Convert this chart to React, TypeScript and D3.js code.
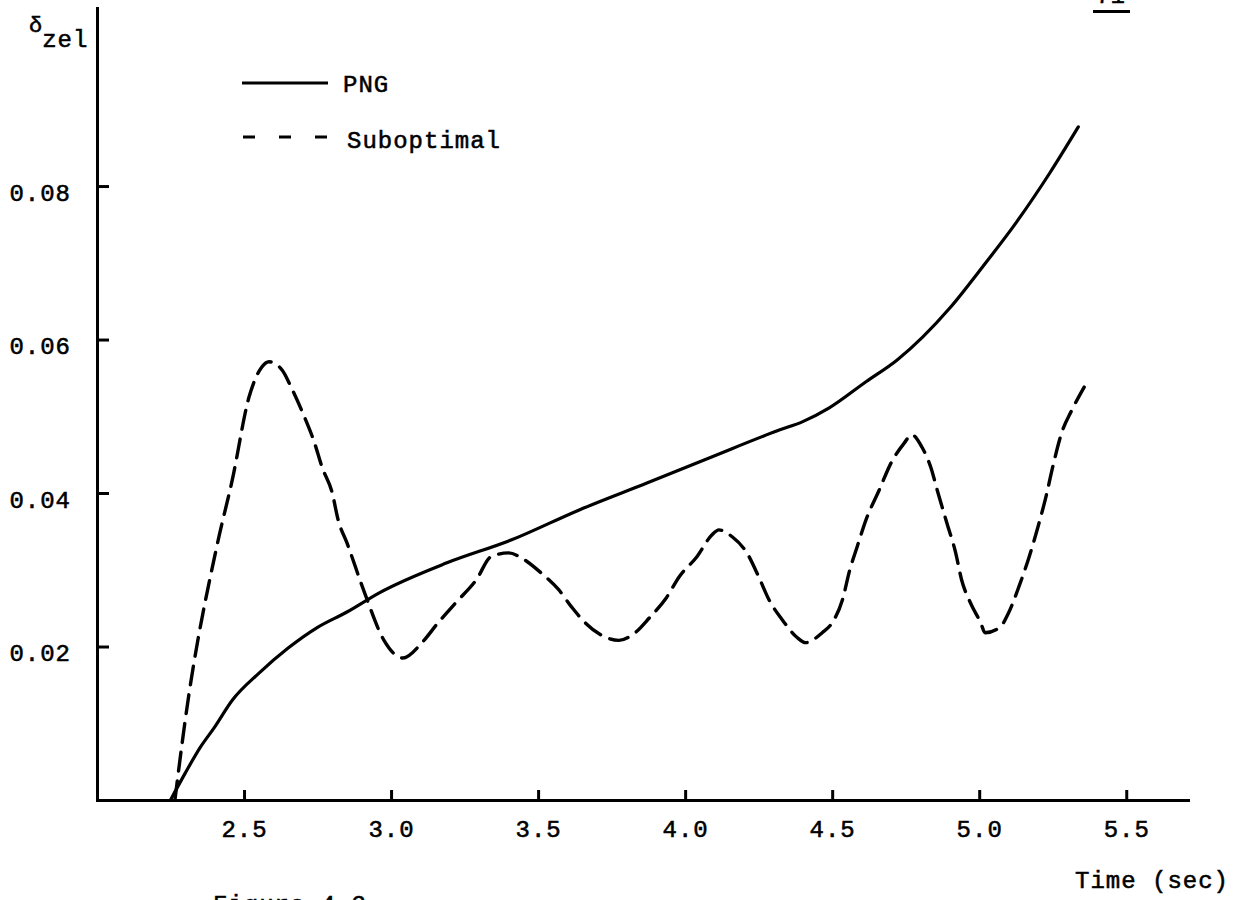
import * as d3 from 'd3'
import { useEffect, useRef } from 'react'

// tick values
const timeTicks = [2.5, 3.0, 3.5, 4.0, 4.5, 5.0, 5.5]
const deltaTicks = [0.02, 0.04, 0.06, 0.08]

// PNG (solid)
const pngTime = [2.25, 2.3, 2.35, 2.4, 2.46, 2.55, 2.65, 2.75, 2.85, 2.96, 3.19, 3.41, 3.64, 3.87, 4.09, 4.32, 4.4, 4.49, 4.615, 4.72, 4.9, 5.01, 5.125, 5.24, 5.337]
const pngDelta = [0, 0.0035, 0.0068, 0.0095, 0.013, 0.0165, 0.0198, 0.0225, 0.0245, 0.027, 0.0309, 0.0339, 0.0378, 0.0413, 0.0447, 0.0482, 0.0493, 0.0511, 0.0545, 0.0573, 0.0641, 0.0694, 0.0752, 0.0817, 0.0877]

// Suboptimal (dashed)
const subTime = [2.265, 2.28, 2.3, 2.41, 2.46, 2.517, 2.56, 2.585, 2.63, 2.66, 2.7, 2.74, 2.765, 2.8, 2.82, 2.85, 2.91, 2.976, 3.04, 3.105, 3.16, 3.22, 3.29, 3.34, 3.4, 3.445, 3.51, 3.57, 3.615, 3.66, 3.73, 3.775, 3.82, 3.88, 3.935, 3.98, 4.04, 4.09, 4.115, 4.16, 4.21, 4.25, 4.285, 4.33, 4.38, 4.41, 4.466, 4.5, 4.535, 4.56, 4.585, 4.615, 4.66, 4.7, 4.745, 4.77, 4.805, 4.835, 4.86, 4.89, 4.92, 4.94, 4.97, 5.005, 5.02, 5.07, 5.1, 5.135, 5.17, 5.2, 5.23, 5.25, 5.28, 5.315, 5.357]
const subDelta = [0, 0.0046, 0.0104, 0.0335, 0.0417, 0.0525, 0.0564, 0.0571, 0.056, 0.0538, 0.0504, 0.0465, 0.0434, 0.04, 0.0365, 0.0335, 0.027, 0.0208, 0.0185, 0.0205, 0.0231, 0.0257, 0.0287, 0.0317, 0.0322, 0.0315, 0.0296, 0.0274, 0.0251, 0.0231, 0.0212, 0.0208, 0.0215, 0.0238, 0.0263, 0.0291, 0.0317, 0.0345, 0.0352, 0.0343, 0.0322, 0.0291, 0.0261, 0.0235, 0.0212, 0.0205, 0.0218, 0.0231, 0.0261, 0.03, 0.033, 0.0365, 0.0404, 0.0439, 0.0465, 0.0476, 0.046, 0.0434, 0.04, 0.0361, 0.0322, 0.0287, 0.0257, 0.0231, 0.0218, 0.0225, 0.0244, 0.0278, 0.0317, 0.0356, 0.04, 0.0434, 0.0478, 0.0508, 0.0538]

const FONT = '"Liberation Mono", "DejaVu Sans Mono", monospace'

const DeltaChart = () => {
  const svgRef = useRef<SVGSVGElement>(null)

  useEffect(() => {
    const width = 1250
    const height = 900

    const xScale = d3.scaleLinear().domain([2.0, 5.71]).range([97, 1188])
    const yScale = d3.scaleLinear().domain([0, 0.1032]).range([800, 8])

    const svg = d3.select(svgRef.current)
    svg.selectAll('*').remove()
    svg.attr('width', width).attr('height', height)

    svg.append('rect').attr('width', width).attr('height', height).attr('fill', '#fff')

    // typewriter text is a bit heavier than the regular mono face
    const inked = (sel: any) => sel
      .attr('font-family', FONT).attr('fill', '#000')
      .attr('stroke', '#000').attr('stroke-width', 0.55)

    // x axis, ticks pointing up
    const xAxis = svg.append('g')
      .attr('transform', `translate(0, ${yScale(0)})`)
      .call(d3.axisBottom(xScale).tickValues(timeTicks).tickFormat(d3.format('.1f'))
        .tickSizeInner(-10).tickSizeOuter(0).tickPadding(20))
    xAxis.select('.domain').attr('stroke', '#000').attr('stroke-width', 3).attr('stroke-linecap', 'square')
    xAxis.selectAll('.tick line').attr('stroke', '#000').attr('stroke-width', 3)
    inked(xAxis.selectAll('.tick text')).attr('font-size', 24).attr('letter-spacing', 1)

    // y axis, ticks pointing right
    const yAxis = svg.append('g')
      .attr('transform', `translate(${xScale(2.0)}, 0)`)
      .call(d3.axisLeft(yScale).tickValues(deltaTicks).tickFormat(d3.format('.2f'))
        .tickSizeInner(-12).tickSizeOuter(0).tickPadding(26))
    yAxis.select('.domain').attr('stroke', '#000').attr('stroke-width', 3).attr('stroke-linecap', 'square')
    yAxis.selectAll('.tick line').attr('stroke', '#000').attr('stroke-width', 3)
    inked(yAxis.selectAll('.tick text')).attr('font-size', 24).attr('letter-spacing', 1)
      .attr('dy', '0.6em')

    const line = d3.line<[number, number]>()
      .x(d => xScale(d[0]))
      .y(d => yScale(d[1]))
      .curve(d3.curveMonotoneX)

    const pngData = pngTime.map((t, i) => [t, pngDelta[i]] as [number, number])
    const subData = subTime.map((t, i) => [t, subDelta[i]] as [number, number])

    svg.append('path')
      .attr('d', line(pngData))
      .attr('fill', 'none').attr('stroke', '#000').attr('stroke-width', 3.2)
      .attr('stroke-linecap', 'round')

    svg.append('path')
      .attr('d', line(subData))
      .attr('fill', 'none').attr('stroke', '#000').attr('stroke-width', 3.4)
      .attr('stroke-dasharray', '19 10').attr('stroke-linecap', 'round')

    // legend
    const legend = svg.append('g')
    legend.append('line').attr('x1', 242).attr('x2', 328).attr('y1', 83).attr('y2', 83)
      .attr('stroke', '#000').attr('stroke-width', 3)
    inked(legend.append('text')).attr('font-size', 24).attr('letter-spacing', 1)
      .attr('x', 343).attr('y', 92).text('PNG')
    legend.append('line').attr('x1', 243).attr('x2', 327).attr('y1', 137).attr('y2', 137)
      .attr('stroke', '#000').attr('stroke-width', 3).attr('stroke-dasharray', '12 24')
    inked(legend.append('text')).attr('font-size', 24).attr('letter-spacing', 1)
      .attr('x', 347).attr('y', 148).text('Suboptimal')

    // axis titles
    const yTitle = inked(svg.append('text')).attr('x', 29).attr('y', 32)
    yTitle.append('tspan').attr('font-size', 22).text('δ')
    yTitle.append('tspan').attr('font-size', 24).attr('letter-spacing', 1).attr('dy', 15).text('zel')

    inked(svg.append('text')).attr('font-size', 24).attr('letter-spacing', 1)
      .attr('x', 1075).attr('y', 888).text('Time (sec)')

    // page number and caption, cut by the page edges as in the scan
    inked(svg.append('text')).attr('font-size', 24)
      .attr('x', 1096).attr('y', 3).text('71')
    svg.append('line').attr('x1', 1093).attr('x2', 1130).attr('y1', 11.5).attr('y2', 11.5)
      .attr('stroke', '#000').attr('stroke-width', 3)
    inked(svg.append('text')).attr('font-size', 24).attr('letter-spacing', 1)
      .attr('x', 213).attr('y', 912).text('Figure 4.3')
  }, [])

  return <svg ref={svgRef} style={{ position: 'absolute', left: 0, top: 0 }} />
}

export default function App() {
  return <DeltaChart />
}
